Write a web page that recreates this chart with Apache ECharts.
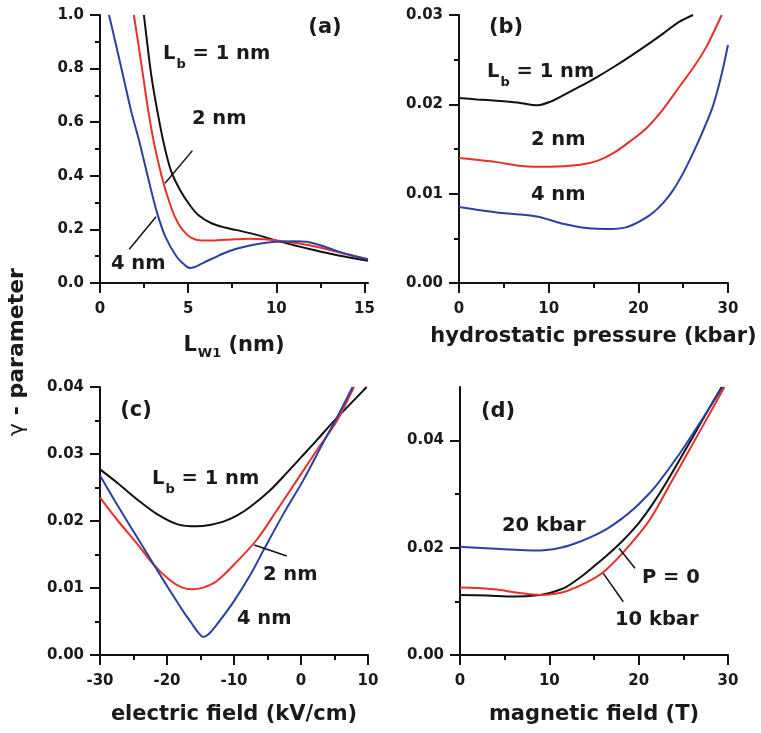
<!DOCTYPE html>
<html>
<head>
<meta charset="utf-8">
<script src="https://cdn.jsdelivr.net/npm/echarts@6/dist/echarts.min.js"></script>
<style>html,body{margin:0;padding:0;background:#fff}#c{width:761px;height:733px}</style>
</head>
<body>
<div id="c"></div>
<script>
// ---------- Panel (a): gamma vs L_W1 (nm) ----------
const aLb1 = [[2.49,1.0],[2.68,0.894],[2.92,0.77],[3.24,0.646],[3.62,0.52],[4.02,0.42],[4.53,0.348],[5.1,0.29],[5.57,0.254],[6.32,0.223],[7.07,0.207],[7.64,0.199],[8.5,0.186],[9.3,0.172],[10,0.158],[11,0.141],[12,0.125],[13,0.11],[14,0.097],[15.2,0.083]];
const aLb2 = [[1.92,1.0],[2.17,0.894],[2.45,0.77],[2.73,0.646],[3.07,0.52],[3.49,0.4],[3.83,0.323],[4.24,0.248],[4.66,0.2],[5.19,0.168],[5.75,0.159],[6.5,0.159],[7.07,0.161],[7.64,0.163],[8.5,0.165],[9.3,0.163],[10,0.159],[11,0.15],[12,0.139],[13,0.124],[14,0.107],[15.2,0.089]];
const aLb4 = [[0.51,1.0],[0.89,0.894],[1.32,0.77],[1.75,0.646],[2.26,0.52],[2.7,0.4],[3.2,0.27],[3.7,0.174],[4.34,0.099],[4.9,0.062],[5.13,0.056],[5.5,0.063],[5.94,0.078],[6.5,0.095],[7.0,0.110],[7.64,0.126],[8.5,0.140],[9.3,0.149],[10,0.154],[11,0.156],[11.7,0.154],[12.5,0.141],[13.5,0.118],[14.5,0.099],[15.2,0.088]];
const aXTicks = [0,5,10,15], aXMinor = [2.5,7.5,12.5];
const aYTicks = [0,0.2,0.4,0.6,0.8,1.0], aYMinor = [0.1,0.3,0.5,0.7,0.9];
const aLeaders = [[[5.24,0.494],[3.69,0.372]], [[3.18,0.247],[1.66,0.126]]];

// ---------- Panel (b): gamma vs hydrostatic pressure (kbar) ----------
const bLb1 = [[0,0.0207],[2,0.02055],[4.2,0.0204],[6.5,0.0202],[8.8,0.0199],[10.2,0.0203],[11.6,0.0210],[13.5,0.0220],[15.3,0.0230],[17.2,0.02415],[19.05,0.02534],[20.9,0.0266],[22.8,0.02795],[24.5,0.0292],[26.1,0.030]];
const bLb2 = [[0,0.0140],[2,0.0138],[4.2,0.01353],[7,0.0131],[10.1,0.0130],[13.5,0.01323],[15.5,0.0137],[17.2,0.01453],[19,0.0158],[20.9,0.01733],[22.8,0.0195],[24.6,0.0220],[26.2,0.0242],[27.6,0.02646],[29.3,0.030]];
const bLb4 = [[0,0.0085],[2,0.0082],[4.2,0.0079],[6.5,0.0077],[8.65,0.00745],[10,0.0071],[11.6,0.00663],[14.2,0.00615],[17.2,0.00604],[18.5,0.0062],[19.4,0.00652],[20.5,0.0071],[21.6,0.00783],[22.8,0.0090],[23.9,0.01043],[25,0.0123],[26.1,0.01453],[27.2,0.0170],[28.3,0.01975],[29.2,0.0230],[30,0.02665]];
const bXTicks = [0,10,20,30], bXMinor = [5,15,25];
const bYTicks = [0,0.01,0.02,0.03], bYMinor = [0.005,0.015,0.025];

// ---------- Panel (c): gamma vs electric field (kV/cm) ----------
const cLb1 = [[-30,0.0277],[-27.3,0.0256],[-24.3,0.0231],[-21.3,0.0209],[-18.4,0.0195],[-15.6,0.0192],[-13.6,0.0194],[-11.6,0.0199],[-9.6,0.0208],[-7.6,0.0221],[-4.6,0.0246],[-2.2,0.0271],[0,0.0295],[2.3,0.0320],[4.8,0.0348],[7.3,0.0374],[9.8,0.0400]];
const cLb2 = [[-30,0.0235],[-27.3,0.0200],[-24.3,0.0164],[-22.1,0.0136],[-19.6,0.0112],[-17.8,0.0101],[-16.3,0.0098],[-14.5,0.0101],[-12.6,0.0110],[-9.6,0.0139],[-6.6,0.0172],[-3.6,0.0216],[-0.6,0.0261],[2.8,0.0312],[3.8,0.0326],[5.5,0.0352],[7.9,0.040]];
const cLb4 = [[-30,0.0268],[-27.3,0.0222],[-24.3,0.0173],[-21.8,0.0132],[-19.55,0.0096],[-17.5,0.0064],[-16.3,0.0047],[-15.3,0.0033],[-14.6,0.0027],[-13.8,0.0031],[-12.6,0.0045],[-10.1,0.0079],[-7.6,0.0119],[-5.4,0.0160],[-2.6,0.0211],[0.35,0.0261],[3,0.0311],[3.8,0.0326],[5.5,0.0357],[7.7,0.040]];
const cXTicks = [-30,-20,-10,0,10], cXMinor = [-25,-15,-5,5];
const cYTicks = [0,0.01,0.02,0.03,0.04], cYMinor = [0.005,0.015,0.025,0.035];
const cLeaders = [[[-6.97,0.01642],[-2.13,0.01478]]];

// ---------- Panel (d): gamma vs magnetic field (T) ----------
const dP0  = [[0,0.0112],[3,0.0111],[6,0.0109],[8.95,0.0112],[10.5,0.0118],[11.9,0.0127],[13.4,0.0144],[14.9,0.0164],[16.4,0.0185],[17.9,0.0208],[19,0.0227],[20.1,0.0248],[21.5,0.0280],[23.1,0.0322],[26,0.0405],[27.6,0.0452],[29.3,0.050]];
const d10  = [[0,0.0126],[2,0.0125],[4.1,0.0122],[6.5,0.0116],[8.95,0.0112],[10.5,0.0114],[11.9,0.0119],[14,0.0134],[16,0.0154],[18.3,0.0192],[20.9,0.0244],[22.3,0.0282],[23.7,0.0324],[26.7,0.0413],[29.6,0.050]];
const d20  = [[0,0.0202],[4.1,0.0198],[8.95,0.0195],[11,0.0199],[12.7,0.0207],[14.5,0.0219],[16.4,0.0235],[18,0.0253],[19.4,0.0272],[20.7,0.0293],[22,0.0317],[24.6,0.0376],[27,0.0437],[29.4,0.050]];
const dXTicks = [0,10,20,30], dXMinor = [5,15,25];
const dYTicks = [0,0.02,0.04], dYMinor = [0.01,0.03];
const dLeaders = [[[17.8,0.0199],[19.59,0.01618]], [[16.04,0.01524],[18.28,0.00994]]];

// ---------- styling ----------
const FONT = 'DejaVu Sans';
const TXT = '#1a1a1a', AX = '#111111';
const C_BLACK = '#111111', C_RED = '#e8302a', C_BLUE = '#2c3fa3';

const panels = [
  {grid:{left:100, top:15,  width:268, height:268}, x:[0,15.2], y:[0,1],
   xt:aXTicks, xm:aXMinor, yt:aYTicks, ym:aYMinor, yf:v=>v.toFixed(1),
   name:'{m|L}{s|W1}{m| (nm)}', gap:49,
   series:[[aLb1,C_BLACK],[aLb2,C_RED],[aLb4,C_BLUE]], leaders:aLeaders},
  {grid:{left:459, top:15,  width:269, height:268}, x:[0,30], y:[0,0.03],
   xt:bXTicks, xm:bXMinor, yt:bYTicks, ym:bYMinor, yf:v=>v.toFixed(2),
   name:'hydrostatic pressure (kbar)', gap:43,
   series:[[bLb1,C_BLACK],[bLb2,C_RED],[bLb4,C_BLUE]], leaders:[]},
  {grid:{left:100, top:387, width:268, height:268}, x:[-30,10], y:[0,0.04],
   xt:cXTicks, xm:cXMinor, yt:cYTicks, ym:cYMinor, yf:v=>v.toFixed(2),
   name:'electric field (kV/cm)', gap:49,
   series:[[cLb1,C_BLACK],[cLb2,C_RED],[cLb4,C_BLUE]], leaders:cLeaders},
  {grid:{left:460, top:387, width:268, height:268}, x:[0,30], y:[0,0.05],
   xt:dXTicks, xm:dXMinor, yt:dYTicks, ym:dYMinor, yf:v=>v.toFixed(2),
   name:'magnetic field (T)', gap:49,
   series:[[dP0,C_BLACK],[d10,C_RED],[d20,C_BLUE]], leaders:dLeaders}
];

const grid = [], xAxis = [], yAxis = [], series = [];
const labelStyle = {fontFamily:FONT, fontWeight:'bold', fontSize:15, color:TXT};

panels.forEach((p, i) => {
  grid.push(Object.assign({containLabel:false}, p.grid));
  xAxis.push({
    type:'value', gridIndex:i, min:p.x[0], max:p.x[1], position:'bottom',
    axisLine:{show:true, onZero:false, lineStyle:{color:AX, width:2}},
    axisTick:{show:true, customValues:p.xt, length:10, lineStyle:{color:AX, width:2}},
    axisLabel:Object.assign({customValues:p.xt, margin:19, formatter:v=>String(Math.round(v))}, labelStyle),
    splitLine:{show:false},
    name:p.name, nameLocation:'middle', nameGap:p.gap,
    nameTextStyle:{fontFamily:FONT, fontWeight:'bold', fontSize:21, color:TXT,
      rich:{m:{fontFamily:FONT, fontWeight:'bold', fontSize:21, color:TXT},
            s:{fontFamily:FONT, fontWeight:'bold', fontSize:13, color:TXT, padding:[15,0,0,1]}}}
  });
  xAxis.push({
    type:'value', gridIndex:i, min:p.x[0], max:p.x[1], position:'bottom',
    axisLine:{show:false, onZero:false},
    axisTick:{show:true, customValues:p.xm, length:5, lineStyle:{color:AX, width:2}},
    axisLabel:{show:false}, splitLine:{show:false}
  });
  yAxis.push({
    type:'value', gridIndex:i, min:p.y[0], max:p.y[1], position:'left',
    axisLine:{show:true, onZero:false, lineStyle:{color:AX, width:2}},
    axisTick:{show:true, customValues:p.yt, length:10, lineStyle:{color:AX, width:2}},
    axisLabel:Object.assign({customValues:p.yt, margin:16, formatter:p.yf}, labelStyle),
    splitLine:{show:false}
  });
  yAxis.push({
    type:'value', gridIndex:i, min:p.y[0], max:p.y[1], position:'left',
    axisLine:{show:false, onZero:false},
    axisTick:{show:true, customValues:p.ym, length:5, lineStyle:{color:AX, width:2}},
    axisLabel:{show:false}, splitLine:{show:false}
  });
  p.series.forEach(([data, color], k) => {
    const s = {
      type:'line', xAxisIndex:2*i, yAxisIndex:2*i, data:data,
      showSymbol:false, symbol:'none', smooth:0.3, clip:true,
      lineStyle:{color:color, width:2}, itemStyle:{color:color}, z:3
    };
    if (k === 0 && p.leaders.length) {
      s.markLine = {
        silent:true, symbol:['none','none'], animation:false,
        label:{show:false}, lineStyle:{color:AX, width:1.5, type:'solid'},
        data:p.leaders.map(([a,b]) => [{coord:a},{coord:b}])
      };
    }
    series.push(s);
  });
});

const annFont = {fontFamily:FONT, fontWeight:'bold', fill:TXT};
function ann(x, y, text, size, align) {
  return {type:'text', x:x, y:y, silent:true, z:10,
    style:Object.assign({text:text, fontSize:size||19.5, textAlign:align||'left', textVerticalAlign:'middle'}, annFont)};
}
function annLb(x, y) {
  return {type:'text', x:x, y:y, silent:true, z:10,
    style:{text:'{m|L}{s|b}{m| = 1 nm}', textAlign:'left', textVerticalAlign:'middle',
      fontFamily:FONT, fontWeight:'bold', fontSize:19.5, fill:TXT,
      rich:{m:{fontFamily:FONT, fontWeight:'bold', fontSize:19.5, fill:TXT},
            s:{fontFamily:FONT, fontWeight:'bold', fontSize:13, fill:TXT, padding:[22,0,0,1]}}}};
}

const graphic = [
  ann(325, 28, '(a)', 21, 'center'),
  ann(506, 28, '(b)', 21, 'center'),
  ann(136, 411, '(c)', 21, 'center'),
  ann(498, 412, '(d)', 21, 'center'),
  annLb(163, 54), ann(192, 119, '2 nm'), ann(111, 264, '4 nm'),
  annLb(487, 72), ann(531, 140, '2 nm'), ann(531, 195, '4 nm'),
  annLb(152, 479), ann(263, 575, '2 nm'), ann(237, 619, '4 nm'),
  ann(502, 526, '20 kbar'), ann(642, 578, 'P = 0'), ann(615, 620, '10 kbar'),
  {type:'text', x:17, y:352, rotation:Math.PI/2, silent:true,
   style:{text:'{g|γ}{m| - parameter}', textAlign:'center', textVerticalAlign:'middle',
     fontFamily:FONT, fontSize:22, fill:TXT,
     rich:{g:{fontFamily:FONT, fontWeight:'normal', fontSize:22, fill:TXT},
           m:{fontFamily:FONT, fontWeight:'bold', fontSize:22, fill:TXT}}}}
];

const chart = echarts.init(document.getElementById('c'), null, {renderer:'canvas'});
chart.setOption({
  animation:false,
  backgroundColor:'#ffffff',
  grid:grid, xAxis:xAxis, yAxis:yAxis, series:series, graphic:graphic
});
</script>
</body>
</html>
